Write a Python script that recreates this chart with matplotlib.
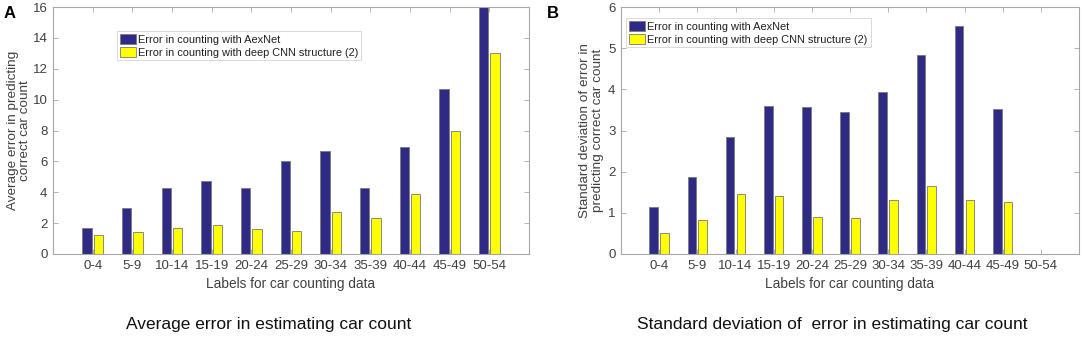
"""
Two-panel grouped bar chart: counting error for AexNet vs deep CNN (2),
mean error (A) and standard deviation of error (B) per car-count label.
"""

import matplotlib.pyplot as plt
import numpy as np

# =============================================================================
# Data
# =============================================================================
labels = ["0-4", "5-9", "10-14", "15-19", "20-24", "25-29",
          "30-34", "35-39", "40-44", "45-49", "50-54"]

avg_aexnet = [1.7, 2.95, 4.3, 4.75, 4.3, 6.0, 6.65, 4.3, 6.9, 10.7, 16.0]
avg_cnn    = [1.2, 1.4, 1.7, 1.85, 1.6, 1.5, 2.75, 2.3, 3.9, 7.95, 13.0]

std_aexnet = [1.15, 1.87, 2.85, 3.6, 3.58, 3.44, 3.93, 4.83, 5.53, 3.53, 0.0]
std_cnn    = [0.5, 0.83, 1.46, 1.41, 0.91, 0.88, 1.3, 1.65, 1.3, 1.27, 0.0]

legend_labels = ["Error in counting with AexNet",
                 "Error in counting with deep CNN structure (2)"]

# =============================================================================
# Style
# =============================================================================
NAVY   = '#2E2A86'
YELLOW = '#FFFF00'
EDGE   = '#7a7a7a'
AXIS   = '#a6a6a6'
TEXT   = '#404040'

plt.rcParams['font.family'] = ['Liberation Sans', 'DejaVu Sans']

W, H = 1084, 338
fig = plt.figure(figsize=(W / 100, H / 100), dpi=100)
fig.patch.set_facecolor('white')


def px_axes(left, right, top, bottom):
    return fig.add_axes([left / W, 1 - bottom / H, (right - left) / W, (bottom - top) / H])


def grouped_bars(ax, s1, s2, ymax, yticks, ylabel, leg_anchor, ypad):
    x = np.arange(1, len(labels) + 1)
    w = 0.229
    off = 0.143
    ax.bar(x - off, s1, width=w, color=NAVY, edgecolor=EDGE, linewidth=0.6,
           label=legend_labels[0], zorder=2)
    ax.bar(x + off, s2, width=w, color=YELLOW, edgecolor=EDGE, linewidth=0.6,
           label=legend_labels[1], zorder=2)
    ax.set_xlim(0, 12)
    ax.set_ylim(0, ymax)
    ax.set_xticks(x)
    ax.set_xticklabels(labels)
    ax.set_yticks(yticks)
    for sp in ax.spines.values():
        sp.set_color(AXIS)
        sp.set_linewidth(0.8)
    ax.tick_params(direction='in', top=True, right=True, length=3.5,
                   width=0.6, color=AXIS, labelsize=9.5, labelcolor=TEXT, pad=4)
    ax.set_xlabel("Labels for car counting data", fontsize=9.8, color=TEXT, labelpad=4)
    ax.set_ylabel(ylabel, fontsize=9.7, color=TEXT, labelpad=ypad, linespacing=1.05)
    leg = ax.legend(loc='upper left', bbox_to_anchor=leg_anchor, fontsize=7.9,
                    frameon=True, fancybox=False, edgecolor='#c8c8c8',
                    handlelength=1.5, handleheight=1.05, handletextpad=0.2,
                    labelspacing=0.2, borderpad=0.25, borderaxespad=0)
    leg.get_frame().set_linewidth(0.6)
    for t in leg.get_texts():
        t.set_color('#202020')


# Panel A
axA = px_axes(53, 529, 7, 254)
grouped_bars(axA, avg_aexnet, avg_cnn, 16, range(0, 17, 2),
             "Average error in predicting\ncorrect car count", (0.134, 0.903), 1)

# Panel B
axB = px_axes(621, 1079, 7, 254)
grouped_bars(axB, std_aexnet, std_cnn, 6, range(0, 7),
             "Standard deviation of error in\npredicting correct car count", (0.011, 0.955), 3)

# Panel letters
fig.text(4 / W, 1 - 13 / H, "A", fontsize=12, fontweight='bold', va='center', ha='left')
fig.text(547 / W, 1 - 13 / H, "B", fontsize=12, fontweight='bold', va='center', ha='left')

# Captions
fig.text(269 / W, 1 - 325 / H, "Average error in estimating car count",
         fontsize=12.5, ha='center', va='center', color='#111111')
fig.text(832 / W, 1 - 325 / H, "Standard deviation of  error in estimating car count",
         fontsize=12.5, ha='center', va='center', color='#111111')

fig.savefig("out.png", dpi=100, facecolor='white')
